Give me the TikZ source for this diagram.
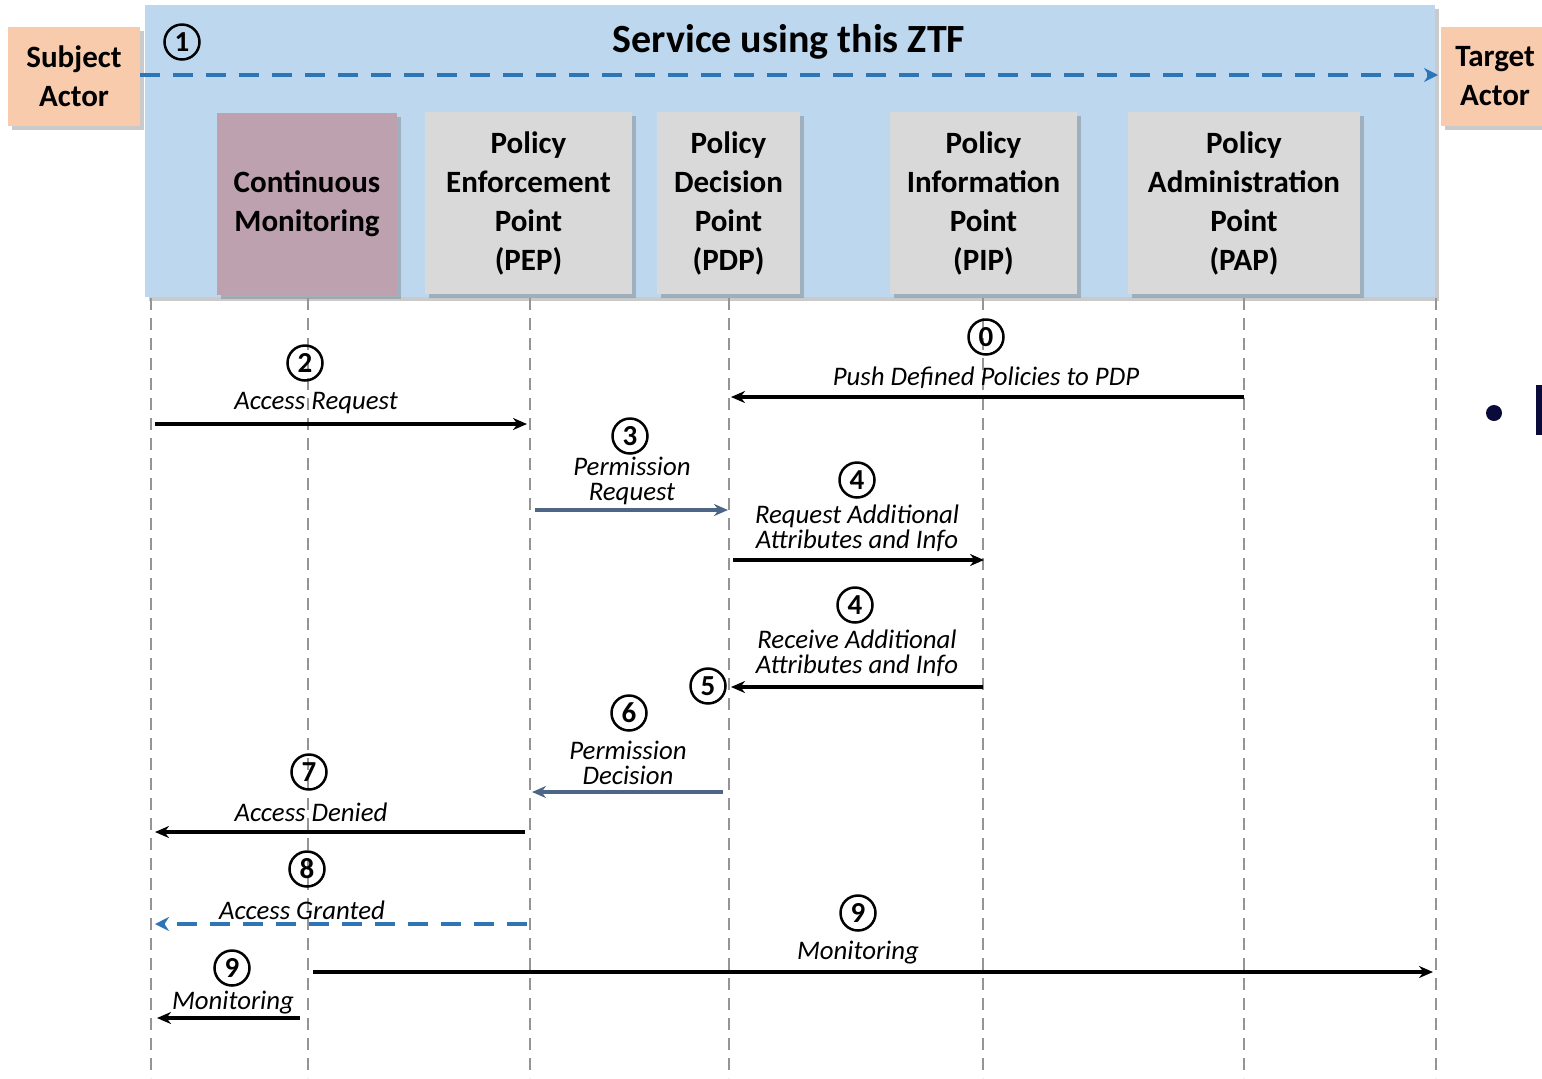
\documentclass[tikz,border=0pt]{standalone}
\usepackage{fontspec}
\setmainfont{Carlito}
\usetikzlibrary{arrows.meta,shadows}
\definecolor{svcblue}{HTML}{BDD7EE}
\definecolor{actor}{HTML}{F8CBAD}
\definecolor{monitor}{HTML}{BDA1AE}
\definecolor{pbox}{HTML}{D9D9D9}
\definecolor{flowblue}{HTML}{2E75B6}
\definecolor{slate}{HTML}{4D6685}
\definecolor{lifegray}{HTML}{959595}
\definecolor{navy}{HTML}{0B0B3B}
\tikzset{
  boxshadow/.style={drop shadow={shadow xshift=2pt,shadow yshift=-2pt,opacity=0.35,fill=black!60}},
  actorbox/.style={fill=actor,boxshadow,align=center,inner sep=0pt,
    minimum width=66pt,minimum height=49.5pt,font=\fontsize{15.5}{19.5}\selectfont\bfseries},
  compbox/.style={fill=pbox,boxshadow,align=center,inner sep=0pt,
    minimum height=91pt,font=\fontsize{15.5}{19.5}\selectfont\bfseries},
  lifeline/.style={draw=lifegray,line width=1pt,dash pattern=on 6pt off 4pt},
  num/.style={circle,draw,line width=1.25pt,inner sep=0pt,minimum size=17.5pt,
    font=\fontsize{14.5}{14.5}\selectfont\bfseries},
  lbl/.style={align=center,inner sep=0pt,font=\fontsize{13.4}{12.5}\selectfont\itshape},
  msg/.style={line width=1.6pt,-{Stealth[length=7pt,width=6pt]}},
  slatemsg/.style={draw=slate,line width=1.7pt,-{Stealth[length=7pt,width=6pt]}},
  bluedash/.style={draw=flowblue,line width=2.2pt,dash pattern=on 10pt off 6.5pt,
    -{Stealth[length=7pt,width=7pt]}}
}
\begin{document}
\begin{tikzpicture}[x=0.5pt,y=-0.5pt]
\useasboundingbox (0,0) rectangle (1542,1078);

% service frame
\node[fill=svcblue,boxshadow,minimum width=645pt,minimum height=146pt,inner sep=0pt]
  (svc) at (790,151) {};
\node[font=\fontsize{20}{24}\selectfont\bfseries] (title) at (789,42) {Service using this ZTF};

% actors
\node[actorbox] (subj) at (74,76.5) {Subject\\Actor};
\node[actorbox,minimum width=54pt] (targ) at (1495,76.5) {Target\\Actor};

% components
\node[compbox,fill=monitor,minimum width=90pt] (cm) at (307,204) {Continuous\\Monitoring};
\node[compbox,minimum width=103.5pt] (pep) at (528.5,203) {Policy\\Enforcement\\Point\\(PEP)};
\node[compbox,minimum width=71.5pt] (pdp) at (728.5,203) {Policy\\Decision\\Point\\(PDP)};
\node[compbox,minimum width=93.5pt] (pip) at (983.5,203) {Policy\\Information\\Point\\(PIP)};
\node[compbox,minimum width=116pt] (pap) at (1244,203) {Policy\\Administration\\Point\\(PAP)};

% step 1: subject to target through the service
\node[num] (n1) at (182,42) {1};
\coordinate (s1a) at (140,75);
\coordinate (s1b) at (1438,75);
\draw[bluedash] (s1a) -- (s1b);

% lifelines
\foreach \name/\x in {sa/151,cml/308,pepl/530,pdpl/729,pipl/983,papl/1244,ta/1436}{
  \coordinate (\name top) at (\x,298);
  \coordinate (\name bot) at (\x,1078);
  \draw[lifeline] (\name top) -- (\name bot);
}

% step 0
\node[num] (n0) at (986,337) {0};
\node[lbl] (l0) at (986,378) {Push Defined Policies to PDP};
\coordinate (a0s) at (1244,397); \coordinate (a0e) at (731,397);
\draw[msg] (a0s) -- (a0e);

% step 2
\node[num] (n2) at (305,363) {2};
\node[lbl] (l2) at (316,403) {Access Request};
\coordinate (a2s) at (155,424); \coordinate (a2e) at (527,424);
\draw[msg] (a2s) -- (a2e);

% step 3
\node[num] (n3) at (630,436) {3};
\node[lbl] (l3) at (632,481) {Permission\\Request};
\coordinate (a3s) at (535,510); \coordinate (a3e) at (728,510);
\draw[slatemsg] (a3s) -- (a3e);

% step 4 request
\node[num] (n4a) at (857,480) {4};
\node[lbl] (l4a) at (857,528) {Request Additional\\Attributes and Info};
\coordinate (a4s) at (733,560); \coordinate (a4e) at (984,560);
\draw[msg] (a4s) -- (a4e);

% step 4 receive
\node[num] (n4b) at (855,605) {4};
\node[lbl] (l4b) at (857,653) {Receive Additional\\Attributes and Info};
\coordinate (a5s) at (983,687); \coordinate (a5e) at (731,687);
\draw[msg] (a5s) -- (a5e);
\node[num] (n5) at (708,686) {5};

% step 6
\node[num] (n6) at (629,713) {6};
\node[lbl] (l6) at (628,763) {Permission\\Decision};
\coordinate (a6s) at (723,792); \coordinate (a6e) at (532,792);
\draw[slatemsg] (a6s) -- (a6e);

% step 7
\node[num] (n7) at (309,772) {7};
\node[lbl] (l7) at (311,812) {Access Denied};
\coordinate (a7s) at (525,832); \coordinate (a7e) at (155,832);
\draw[msg] (a7s) -- (a7e);

% step 8
\node[num] (n8) at (307,869) {8};
\node[lbl] (l8) at (302,910) {Access Granted};
\coordinate (a8s) at (527,924); \coordinate (a8e) at (155,924);
\draw[bluedash] (a8s) -- (a8e);

% step 9 to target
\node[num] (n9a) at (858,913) {9};
\node[lbl] (l9a) at (858,953) {Monitoring};
\coordinate (a9s) at (313,972); \coordinate (a9e) at (1433,972);
\draw[msg] (a9s) -- (a9e);

% step 9 to subject
\node[num] (n9b) at (232,968) {9};
\node[lbl] (l9b) at (233,1003) {Monitoring};
\coordinate (a9bs) at (300,1018); \coordinate (a9be) at (157,1018);
\draw[msg] (a9bs) -- (a9be);

% bullet at the right edge
\fill[navy] (1494,413) circle (4pt);
\fill[navy] (1536,385) rectangle (1545,435);
\end{tikzpicture}
\end{document}
